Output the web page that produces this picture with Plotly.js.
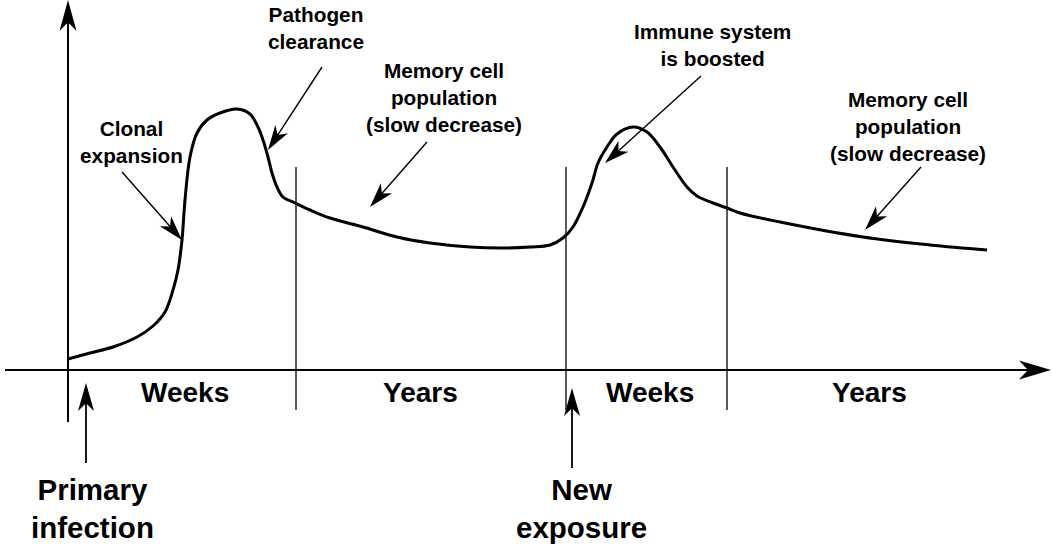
<!DOCTYPE html>
<html>
<head>
<meta charset="utf-8">
<script src="https://cdn.plot.ly/plotly-3.0.1.min.js"></script>
<style>html,body{margin:0;padding:0;background:#fff;}#chart{width:1052px;height:548px;}</style>
</head>
<body>
<div id="chart"></div>
<script>
// ---- Data: memory-cell population over time (x: time along the axis, y: level above the axis) ----
var popX = [0, 22, 45, 69, 85, 97, 105, 110, 114, 117, 122, 129, 139, 152, 169, 182, 190, 195, 200, 204, 209, 215, 227, 242, 262, 295, 329, 362, 402, 435, 462, 482, 495, 505, 515, 524, 530, 539, 549, 565, 579, 592, 605, 619, 629, 645, 659, 672, 712, 795, 862, 919];
var popY = [11, 17, 23, 33, 44, 58, 80, 100, 130, 170, 213, 237, 250, 257, 261, 256, 243, 230, 213, 197, 183, 173, 167, 160, 152, 143, 133, 127, 123, 122, 123, 125, 132, 143, 163, 187, 207, 223, 236, 243, 238, 223, 203, 183, 174, 167, 162, 157, 148, 133, 125, 120];

// Phase boundaries and phase labels along the time axis
var phaseBounds = [228, 498, 659];
var phaseLabels = ["Weeks", "Years", "Weeks", "Years"];
var phaseLabelX = [117, 352, 582, 801];

// Events marked under the time axis
var eventLabels = ["Primary<br>infection", "New<br>exposure"];
var eventX = [18, 504];
var eventLabelX = [24, 513];

// Callout texts
var calloutTexts = ["Clonal<br>expansion", "Pathogen<br>clearance", "Memory cell<br>population<br>(slow decrease)", "Immune system<br>is boosted", "Memory cell<br>population<br>(slow decrease)"];

// ---- Layout helpers (positions of annotation text and pointer arrows) ----
var calloutTextPos = [[63, 228], [248, 342], [376, 273], [644, 325], [840, 244]];
var calloutTail = [[54, 198], [254, 303], [359, 228], [633, 294], [853, 203]];
var calloutTip = [[114, 130], [200, 220], [302, 163], [537, 207], [797, 140]];

var shapes = [];
var annotations = [];

function line(x0, y0, x1, y1, w) {
  shapes.push({type: 'line', xref: 'x', yref: 'y', x0: x0, y0: y0, x1: x1, y1: y1,
    line: {color: '#000', width: w}});
}
function arrow(tx, ty, fx, fy, L, W, lw) {
  var dx = tx - fx, dy = ty - fy, d = Math.sqrt(dx * dx + dy * dy);
  var ux = dx / d, uy = dy / d, nx = -uy, ny = ux;
  var bx = tx - ux * L, by = ty - uy * L;
  var mx = tx - ux * L * 0.72, my = ty - uy * L * 0.72;
  line(fx, fy, tx - ux * L * 0.6, ty - uy * L * 0.6, lw);
  var p = 'M' + tx + ',' + ty +
    ' L' + (bx + nx * W / 2) + ',' + (by + ny * W / 2) +
    ' L' + mx + ',' + my +
    ' L' + (bx - nx * W / 2) + ',' + (by - ny * W / 2) + ' Z';
  shapes.push({type: 'path', xref: 'x', yref: 'y', path: p, fillcolor: '#000', line: {width: 0}});
}

var FONT = 'Arial, "Liberation Sans", Helvetica, sans-serif';

// Axes of the diagram
arrow(983, 0, -63, 0, 32, 19, 2);       // time axis
arrow(0, 370, 0, -52, 31, 17, 2);       // population axis

// Phase dividers
phaseBounds.forEach(function (b) { line(b, 203, b, -40, 1.3); });

// Phase labels
phaseLabels.forEach(function (t, i) {
  annotations.push({x: phaseLabelX[i], y: -22, xref: 'x', yref: 'y', text: '<b>' + t + '</b>',
    showarrow: false, xanchor: 'center', yanchor: 'middle', font: {family: FONT, size: 28, color: '#000'}});
});

// Event arrows and labels
eventX.forEach(function (x, i) {
  arrow(x, i === 0 ? -13 : -18, x, i === 0 ? -93 : -98, 28, 16, 1.8);
  annotations.push({x: eventLabelX[i], y: -138, xref: 'x', yref: 'y', text: '<b>' + eventLabels[i] + '</b>',
    showarrow: false, xanchor: 'center', yanchor: 'middle', font: {family: FONT, size: 29.5, color: '#000'}});
});

// Callouts
calloutTexts.forEach(function (t, i) {
  annotations.push({x: calloutTextPos[i][0], y: calloutTextPos[i][1], xref: 'x', yref: 'y', text: '<b>' + t + '</b>',
    showarrow: false, xanchor: 'center', yanchor: 'middle', font: {family: FONT, size: 20.8, color: '#000'}});
  arrow(calloutTip[i][0], calloutTip[i][1], calloutTail[i][0], calloutTail[i][1], 25, 15, 1.4);
});

var trace = {x: popX, y: popY, type: 'scatter', mode: 'lines',
  line: {color: '#000', width: 3, shape: 'spline', smoothing: 1}, hoverinfo: 'skip'};

var layout = {
  width: 1052, height: 548, margin: {l: 0, r: 0, t: 0, b: 0},
  paper_bgcolor: '#fff', plot_bgcolor: '#fff', showlegend: false,
  xaxis: {range: [-68, 984], visible: false, fixedrange: true},
  yaxis: {range: [-178, 370], visible: false, fixedrange: true},
  shapes: shapes, annotations: annotations
};

Plotly.newPlot('chart', [trace], layout, {staticPlot: true, displayModeBar: false});
</script>
</body>
</html>
